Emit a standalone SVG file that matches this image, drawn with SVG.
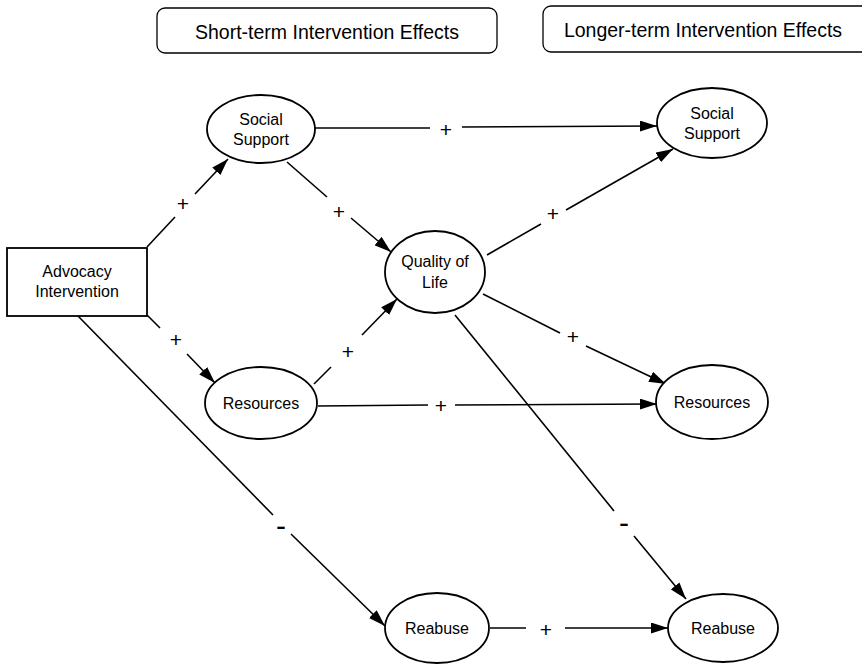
<svg xmlns="http://www.w3.org/2000/svg" width="862" height="666" viewBox="0 0 862 666">
<defs>
<marker id="arr" markerUnits="userSpaceOnUse" markerWidth="17" markerHeight="11" refX="17" refY="5.5" orient="auto">
<path d="M0,0 L17,5.5 L0,11 z" fill="#000"/>
</marker>
<style>
.hdr{fill:#fff;stroke:#000;stroke-width:1.3}
.node{fill:#fff;stroke:#000;stroke-width:1.8}
.t{font-family:"Liberation Sans",Arial,sans-serif;font-size:16px;fill:#000;text-anchor:middle}
.th{font-family:"Liberation Sans",Arial,sans-serif;font-size:19.5px;fill:#000;text-anchor:middle}
.ln{stroke:#000;stroke-width:1.6;fill:none}
.a{marker-end:url(#arr)}
.plus{font-family:"Liberation Sans",Arial,sans-serif;font-size:21px;fill:#000;text-anchor:middle}
.minus{font-family:"Liberation Sans",Arial,sans-serif;font-size:30px;fill:#000;text-anchor:middle}
</style>
</defs>
<rect width="862" height="666" fill="#fff"/>
<g id="header-short">
<rect class="hdr" x="157" y="8" width="340" height="45" rx="8"/>
<text class="th" x="327" y="39">Short-term Intervention Effects</text>
</g>
<g id="header-long">
<rect class="hdr" x="543" y="6" width="330" height="46" rx="8"/>
<text class="th" x="703" y="37">Longer-term Intervention Effects</text>
</g>
<g id="connectors">
<line class="ln" x1="147" y1="247" x2="175" y2="217"/>
<line class="ln a" x1="195" y1="194" x2="228" y2="159"/>
<line class="ln" x1="147" y1="315" x2="160" y2="328"/>
<line class="ln a" x1="187" y1="354" x2="215" y2="383"/>
<line class="ln" x1="78" y1="316" x2="273" y2="515"/>
<line class="ln a" x1="291" y1="534" x2="385" y2="626"/>
<line class="ln" x1="287" y1="162" x2="327" y2="197"/>
<line class="ln a" x1="351" y1="218" x2="391" y2="252"/>
<line class="ln" x1="314" y1="384" x2="331" y2="367"/>
<line class="ln a" x1="362" y1="335" x2="397" y2="299"/>
<line class="ln" x1="315" y1="128" x2="430" y2="128"/>
<line class="ln a" x1="462" y1="127" x2="657" y2="126"/>
<line class="ln" x1="487" y1="255" x2="541" y2="224"/>
<line class="ln a" x1="566" y1="210" x2="673" y2="149"/>
<line class="ln" x1="483" y1="294" x2="560" y2="333"/>
<line class="ln a" x1="586" y1="346" x2="666" y2="384"/>
<line class="ln" x1="318" y1="406" x2="428" y2="405"/>
<line class="ln a" x1="455" y1="405" x2="657" y2="404"/>
<line class="ln" x1="455" y1="315" x2="614" y2="511"/>
<line class="ln a" x1="634" y1="536" x2="686" y2="599"/>
<line class="ln" x1="490" y1="628" x2="526" y2="628"/>
<line class="ln a" x1="565" y1="628" x2="668" y2="628"/>
<text class="plus" x="183" y="211">+</text>
<text class="plus" x="176" y="347">+</text>
<text class="plus" x="339" y="219">+</text>
<text class="plus" x="348" y="359">+</text>
<text class="plus" x="446" y="137">+</text>
<text class="plus" x="553" y="221">+</text>
<text class="plus" x="573" y="344">+</text>
<text class="plus" x="441" y="413">+</text>
<text class="plus" x="546" y="637">+</text>
<text class="minus" x="281" y="536">-</text>
<text class="minus" x="624" y="533">-</text>
</g>
<g id="advocacy">
<rect class="node" x="7" y="248" width="140" height="68" stroke-width="1.5"/>
<text class="t" x="77" y="277">Advocacy</text>
<text class="t" x="77" y="297">Intervention</text>
</g>
<g id="social-support-short">
<ellipse class="node" cx="261" cy="129" rx="54" ry="34"/>
<text class="t" x="261" y="125">Social</text>
<text class="t" x="261" y="145">Support</text>
</g>
<g id="resources-short">
<ellipse class="node" cx="261" cy="403" rx="56" ry="36"/>
<text class="t" x="261" y="409">Resources</text>
</g>
<g id="quality-of-life">
<ellipse class="node" cx="435" cy="272" rx="50" ry="41"/>
<text class="t" x="435" y="267">Quality of</text>
<text class="t" x="435" y="288">Life</text>
</g>
<g id="reabuse-short">
<ellipse class="node" cx="437" cy="628" rx="52" ry="35"/>
<text class="t" x="437" y="634">Reabuse</text>
</g>
<g id="social-support-long">
<ellipse class="node" cx="712" cy="123" rx="55" ry="35"/>
<text class="t" x="712" y="119">Social</text>
<text class="t" x="712" y="139">Support</text>
</g>
<g id="resources-long">
<ellipse class="node" cx="712" cy="402" rx="56" ry="37"/>
<text class="t" x="712" y="408">Resources</text>
</g>
<g id="reabuse-long">
<ellipse class="node" cx="723" cy="628" rx="55" ry="34"/>
<text class="t" x="723" y="634">Reabuse</text>
</g>
</svg>
